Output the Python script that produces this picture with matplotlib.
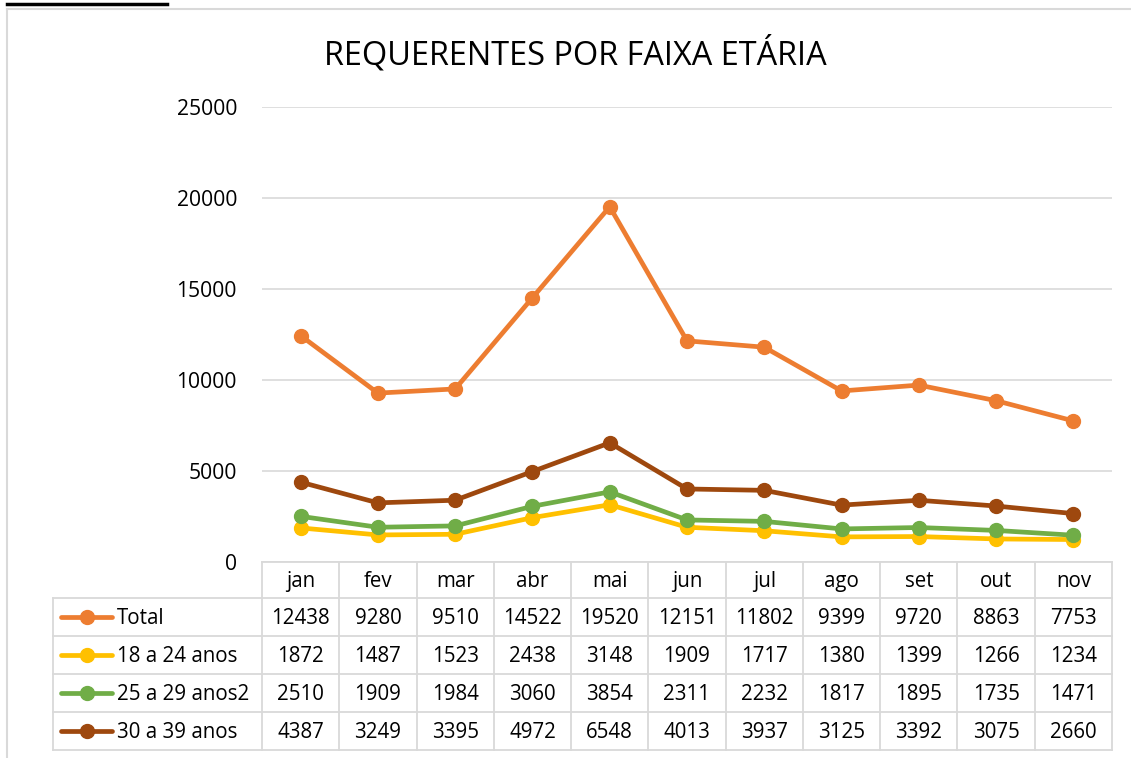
import matplotlib
matplotlib.use("Agg")
import matplotlib.pyplot as plt
from matplotlib.lines import Line2D
import matplotlib.transforms as mtransforms

months = ["jan", "fev", "mar", "abr", "mai", "jun", "jul", "ago", "set", "out", "nov"]
series_names = ["Total", "18 a 24 anos", "25 a 29 anos2", "30 a 39 anos"]
total = [12438, 9280, 9510, 14522, 19520, 12151, 11802, 9399, 9720, 8863, 7753]
age_18_24 = [1872, 1487, 1523, 2438, 3148, 1909, 1717, 1380, 1399, 1266, 1234]
age_25_29 = [2510, 1909, 1984, 3060, 3854, 2311, 2232, 1817, 1895, 1735, 1471]
age_30_39 = [4387, 3249, 3395, 4972, 6548, 4013, 3937, 3125, 3392, 3075, 2660]
colors = ["#ED7D31", "#FFC000", "#70AD47", "#9E480E"]
yticks = [0, 5000, 10000, 15000, 20000, 25000]

series = [total, age_18_24, age_25_29, age_30_39]

FONT = "Open Sans"
FS = 14.8
W, H = 1131, 758
fig = plt.figure(figsize=(W / 100, H / 100), dpi=100)

def fx(px):
    return px / W

def fy(py):
    return 1 - py / H

grid_c = "#D9D9D9"

ax = fig.add_axes([fx(262), fy(562), fx(1112) - fx(262), fy(107) - fy(562)])
x = list(range(len(months)))
for vals, c in zip(series, colors):
    ax.plot(x, vals, color=c, lw=3.4, marker="o", markersize=10, solid_capstyle="round", zorder=3)

ax.set_xlim(-0.5, len(months) - 0.5)
ax.set_ylim(0, 25000)
ax.set_yticks(yticks)
ax.set_yticklabels([str(v) for v in yticks], fontsize=15.2, family=FONT, color="#000000")
ax.tick_params(axis="y", length=0, pad=18)
ax.set_xticks([])
ax.grid(axis="y", color=grid_c, lw=1.2)
ax.set_axisbelow(True)
for s in ax.spines.values():
    s.set_visible(False)

# Table
tr = mtransforms.blended_transform_factory(ax.transData, fig.transFigure)
row_tops = [562, 598, 636, 674, 712, 750]
lw = 1.3
fig.add_artist(Line2D([fx(262), fx(1112)], [fy(562), fy(562)], color=grid_c, lw=lw))
for yy in row_tops[1:]:
    fig.add_artist(Line2D([fx(53), fx(1112)], [fy(yy), fy(yy)], color=grid_c, lw=lw))
for i in range(len(months) + 1):
    fig.add_artist(Line2D([i - 0.5, i - 0.5], [fy(562), fy(750)], color=grid_c, lw=lw, transform=tr))
fig.add_artist(Line2D([fx(53), fx(53)], [fy(598), fy(750)], color=grid_c, lw=lw))

hy = (562 + 598) / 2 + 1.5
for i, m in enumerate(months):
    fig.text(i, fy(hy), m, transform=tr, ha="center", va="center", fontsize=FS, family=FONT)

for r, (name, vals, c) in enumerate(zip(series_names, series, colors)):
    cy = fy((row_tops[r + 1] + row_tops[r + 2]) / 2 + 1.5)
    ly = fy((row_tops[r + 1] + row_tops[r + 2]) / 2)
    fig.add_artist(Line2D([fx(61), fx(112)], [ly, ly], color=c, lw=3.4, solid_capstyle="round"))
    fig.add_artist(Line2D([fx(86.5)], [ly], color=c, marker="o", markersize=10, lw=0))
    fig.text(fx(117), cy, name, ha="left", va="center", fontsize=FS, family=FONT)
    for i, v in enumerate(vals):
        fig.text(i, cy, str(v), transform=tr, ha="center", va="center", fontsize=FS, family=FONT)

fig.text(fx(575), fy(54), "REQUERENTES POR FAIXA ETÁRIA", ha="center", va="center",
         fontsize=23.4, family=FONT)

fig.add_artist(Line2D([fx(7), fx(1131)], [fy(9), fy(9)], color=grid_c, lw=1.5))
fig.add_artist(Line2D([fx(7), fx(7)], [fy(9), fy(758)], color=grid_c, lw=1.5))
fig.add_artist(Line2D([fx(7), fx(167)], [fy(4), fy(4)], color="black", lw=2.5))

fig.savefig("out.png", dpi=100)
